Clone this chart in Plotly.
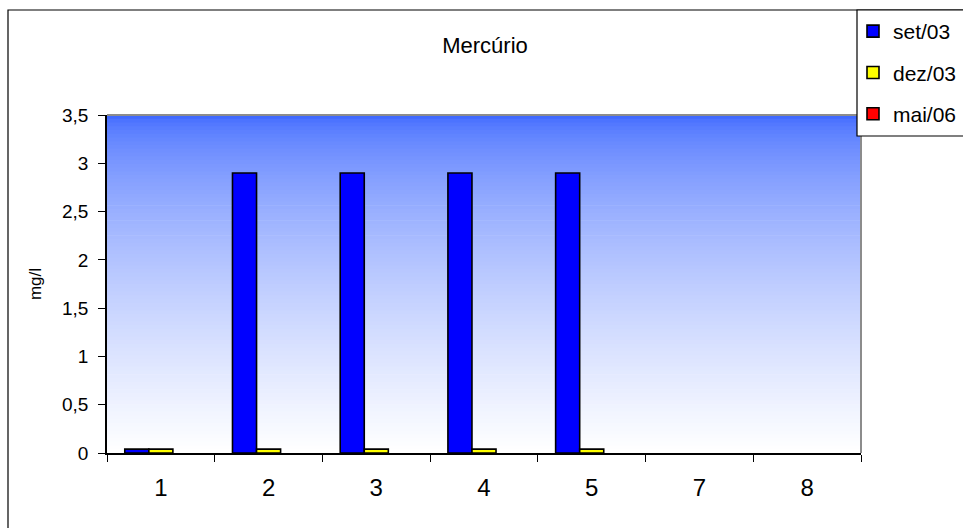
import plotly.graph_objects as go

# Mercury concentration per sampling point
pontos = ["1", "2", "3", "4", "5", "7", "8"]
set_03 = [0.04, 2.9, 2.9, 2.9, 2.9, None, None]
dez_03 = [0.04, 0.04, 0.04, 0.04, 0.04, None, None]
mai_06 = [None, None, None, None, None, None, None]

series = [
    ("set/03", set_03, "#0000ff"),
    ("dez/03", dez_03, "#ffff00"),
    ("mai/06", mai_06, "#ff0000"),
]

W, H = 963, 528
L, R, T, B = 107, 102, 115, 75
pw, ph = W - L - R, H - T - B


def px_x(x):
    return (x - L) / pw


def px_y(y):
    return (H - B - y) / ph


fig = go.Figure()
for nome, vals, cor in series:
    fig.add_trace(go.Bar(
        x=pontos, y=vals, name=nome, legendgroup=nome,
        marker=dict(color=cor, line=dict(color="#000000", width=1.6)),
    ))

shapes = []
# vertical blue-to-white gradient behind the plot area
n = 90
top = (63, 105, 255)
for k in range(n):
    t = k / (n - 1)
    f = t ** 0.6
    c = tuple(round(top[j] + (255 - top[j]) * f) for j in range(3))
    y1 = 1 - k / n
    y0 = 1 - (k + 1) / n
    shapes.append(dict(type="rect", xref="x domain", yref="y domain",
                       x0=0, x1=1, y0=max(0, y0 - 0.002), y1=y1,
                       fillcolor="rgb(%d,%d,%d)" % c, line=dict(width=0),
                       layer="below"))
# grey frame on top and right of the plot area
shapes.append(dict(type="line", xref="x domain", yref="y domain",
                   x0=0, x1=1, y0=1, y1=1, line=dict(color="#8c8c8c", width=2)))
shapes.append(dict(type="line", xref="x domain", yref="y domain",
                   x0=1, x1=1, y0=0, y1=1, line=dict(color="#8c8c8c", width=2)))
# outer chart border
shapes.append(dict(type="rect", xref="paper", yref="paper",
                   x0=px_x(8), x1=px_x(1000), y0=px_y(560), y1=px_y(10),
                   line=dict(color="#000000", width=1.2), fillcolor="rgba(0,0,0,0)"))
# legend box
shapes.append(dict(type="rect", xref="paper", yref="paper",
                   x0=px_x(857), x1=px_x(1000), y0=px_y(136), y1=px_y(10),
                   line=dict(color="#000000", width=1.2), fillcolor="#ffffff"))

fig.update_layout(
    width=W, height=H,
    margin=dict(l=L, r=R, t=T, b=B, autoexpand=False),
    paper_bgcolor="#ffffff",
    plot_bgcolor="rgba(0,0,0,0)",
    separators=",.",
    font=dict(family="Liberation Sans, Arial, sans-serif", color="#000000"),
    title=dict(text="Mercúrio", x=px_x(485), xref="paper", xanchor="center",
               y=1 - 45 / H, yanchor="middle", font=dict(size=22)),
    barmode="group", bargap=0.33, bargroupgap=0,
    showlegend=True,
    legend=dict(x=px_x(853), xanchor="left", y=px_y(11), yanchor="top",
                bgcolor="rgba(0,0,0,0)", borderwidth=0,
                font=dict(size=21), tracegroupgap=11, traceorder="grouped"),
    shapes=shapes,
    xaxis=dict(type="category", showgrid=False, showline=True, linecolor="#000000",
               linewidth=1.5, ticks="outside", tickson="boundaries", ticklen=7,
               tickcolor="#000000", tickfont=dict(size=24), ticklabelstandoff=12,
               zeroline=False),
    yaxis=dict(range=[0, 3.5], dtick=0.5, showgrid=False, showline=True,
               linecolor="#000000", linewidth=1.5, ticks="outside", ticklen=7,
               tickcolor="#000000", tickfont=dict(size=19), ticklabelstandoff=6,
               zeroline=False,
               title=dict(text="mg/l", font=dict(size=17), standoff=16)),
)

fig.write_html("out.html")
